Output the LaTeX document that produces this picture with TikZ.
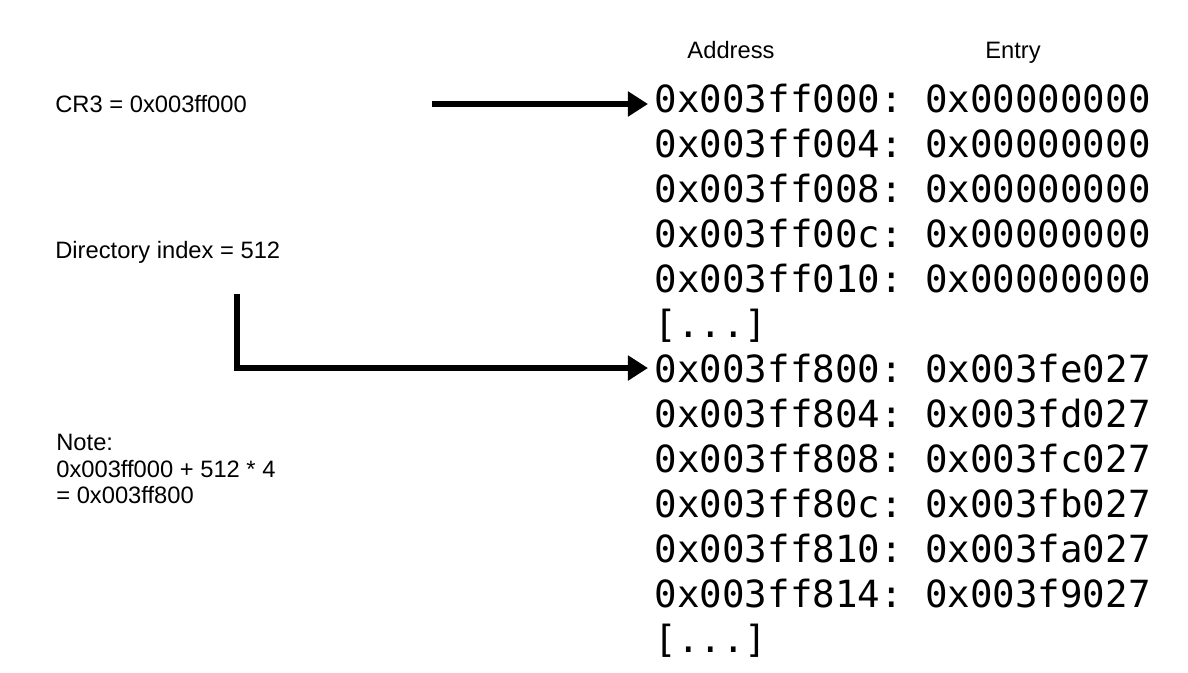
\documentclass[tikz,border=0pt]{standalone}
\usepackage{fontspec}
\setmainfont{Liberation Sans}
\setmonofont{DejaVu Sans Mono}
\usetikzlibrary{arrows.meta}

\begin{document}
\begin{tikzpicture}[scale=0.2]
            \tikzstyle{every node}+=[inner sep=0pt]
            \tikzstyle{plain}=[font=\fontsize{13.5}{14.9}\selectfont]
            \tikzstyle{row}=[font=\ttfamily\fontsize{21.3}{25.5}\selectfont, anchor=base west, inner xsep=0.13cm]
            \tikzstyle{ptr}=[line width=0.12cm, -{Triangle[length=0.4cm,width=0.48cm]}]
            \useasboundingbox (0,0) rectangle (118.8,-67.2);
            % column heads
            \node [plain, anchor=base] (addr) at (73.1,-5.8) {Address};
            \node [plain, anchor=base] (entry) at (101.3,-5.8) {Entry};
            % left side notes
            \node [plain, anchor=base west] (cr3) at (5.5,-11.2) {CR3 = 0x003ff000};
            \node [plain, anchor=base west] (idx) at (5.5,-25.8) {Directory index = 512};
            \node [plain, anchor=west, align=left] (note) at (5.6,-46.9) {Note:\\0x003ff000 + 512 * 4\\= 0x003ff800};
            % page directory rows
            \node [row] (r000) at (64.8,-11.2) {0x003ff000: 0x00000000};
            \node [row] (r004) at (64.8,-15.7) {0x003ff004: 0x00000000};
            \node [row] (r008) at (64.8,-20.2) {0x003ff008: 0x00000000};
            \node [row] (r00c) at (64.8,-24.7) {0x003ff00c: 0x00000000};
            \node [row] (r010) at (64.8,-29.2) {0x003ff010: 0x00000000};
            \node [row] (gap1) at (64.8,-33.7) {[...]};
            \node [row] (r800) at (64.8,-38.2) {0x003ff800: 0x003fe027};
            \node [row] (r804) at (64.8,-42.7) {0x003ff804: 0x003fd027};
            \node [row] (r808) at (64.8,-47.2) {0x003ff808: 0x003fc027};
            \node [row] (r80c) at (64.8,-51.7) {0x003ff80c: 0x003fb027};
            \node [row] (r810) at (64.8,-56.2) {0x003ff810: 0x003fa027};
            \node [row] (r814) at (64.8,-60.7) {0x003ff814: 0x003f9027};
            \node [row] (gap2) at (64.8,-65.2) {[...]};
            % pointers
            \coordinate (cr3tail) at (43.2,-10.4);
            \coordinate (idxtail) at (23.7,-29.4);
            \draw [ptr] (cr3tail) -- (cr3tail -| r000.west);
            \draw [ptr] (idxtail) |- (r800.west);
\end{tikzpicture}
\end{document}
